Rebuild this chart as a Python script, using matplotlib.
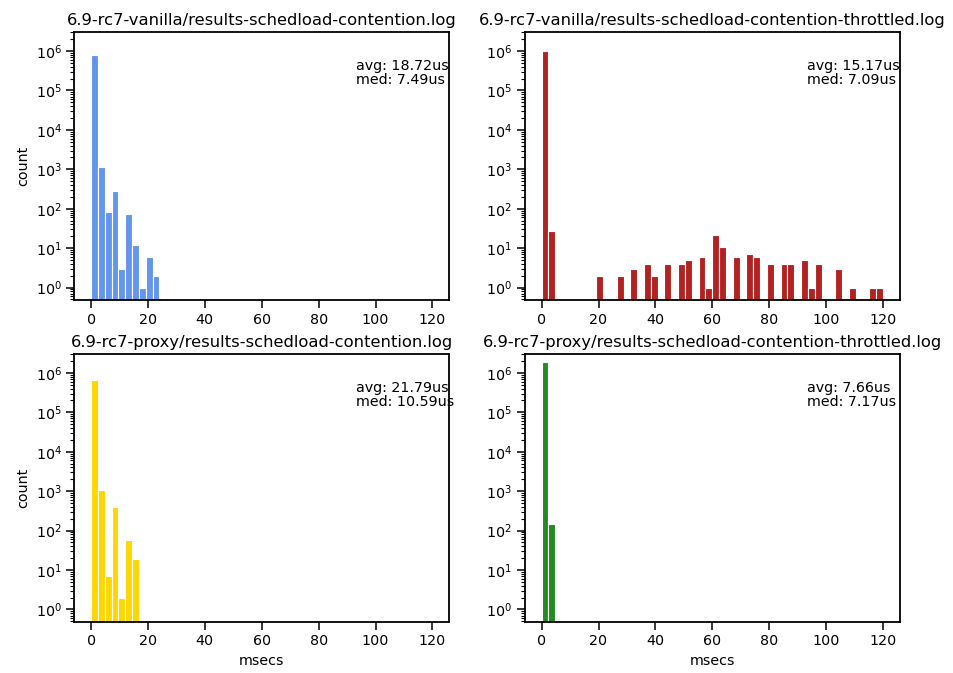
import matplotlib
matplotlib.use("Agg")
import matplotlib.pyplot as plt
import numpy as np

# histogram bins: 0..120 ms in 50 bins
bin_width = 2.4

titles = [
    "6.9-rc7-vanilla/results-schedload-contention.log",
    "6.9-rc7-vanilla/results-schedload-contention-throttled.log",
    "6.9-rc7-proxy/results-schedload-contention.log",
    "6.9-rc7-proxy/results-schedload-contention-throttled.log",
]
colors = ["cornflowerblue", "firebrick", "gold", "forestgreen"]
avg_us = ["18.72", "15.17", "21.79", "7.66"]
med_us = ["7.49", "7.09", "10.59", "7.17"]

# bin index -> count
vanilla_bins = [0, 1, 2, 3, 4, 5, 6, 7, 8, 9]
vanilla_counts = [800000, 1150, 85, 290, 3, 75, 12, 1, 6, 2]

vanilla_thr_bins = [0, 1, 8, 11, 13, 15, 16, 18, 20, 21, 23, 24, 25, 26,
                    28, 30, 31, 33, 35, 36, 38, 39, 40, 43, 45, 48, 49]
vanilla_thr_counts = [1000000, 27, 2, 2, 3, 4, 2, 4, 4, 5, 6, 1, 22, 11,
                      6, 7, 6, 4, 4, 4, 5, 1, 4, 3, 1, 1, 1]

proxy_bins = [0, 1, 2, 3, 4, 5, 6]
proxy_counts = [680000, 1100, 7, 390, 2, 58, 19]

proxy_thr_bins = [0, 1]
proxy_thr_counts = [1900000, 150]

all_bins = [vanilla_bins, vanilla_thr_bins, proxy_bins, proxy_thr_bins]
all_counts = [vanilla_counts, vanilla_thr_counts, proxy_counts, proxy_thr_counts]

plt.rcParams["font.family"] = "DejaVu Sans"
fig, axes = plt.subplots(2, 2, figsize=(9.54, 6.73), dpi=100)
fig.subplots_adjust(left=0.0776, right=0.9434, bottom=0.0758, top=0.9529,
                    wspace=0.2, hspace=0.199)

for i, ax in enumerate(axes.flat):
    left = np.array(all_bins[i]) * bin_width
    ax.bar(left, all_counts[i], width=bin_width, align="edge",
           color=colors[i], edgecolor="white", linewidth=0.8)
    ax.set_yscale("log")
    ax.set_xlim(-6, 126)
    ax.set_ylim(0.48, 3.1e6)
    ax.set_xticks([0, 20, 40, 60, 80, 100, 120])
    ax.set_title(titles[i], fontsize=11.8, pad=5)
    ax.text(0.752, 0.897, "avg: %sus\nmed: %sus" % (avg_us[i], med_us[i]),
            transform=ax.transAxes, ha="left", va="top", fontsize=10.3,
            linespacing=1.0)
    ax.tick_params(which="major", labelsize=10.3, length=5.5, width=1.1)
    ax.tick_params(which="minor", length=3, width=0.8)
    for sp in ax.spines.values():
        sp.set_linewidth(1.3)
    if i % 2 == 0:
        ax.set_ylabel("count", fontsize=10.3)
    if i >= 2:
        ax.set_xlabel("msecs", fontsize=10.3)

fig.savefig("out.png", dpi=100)
